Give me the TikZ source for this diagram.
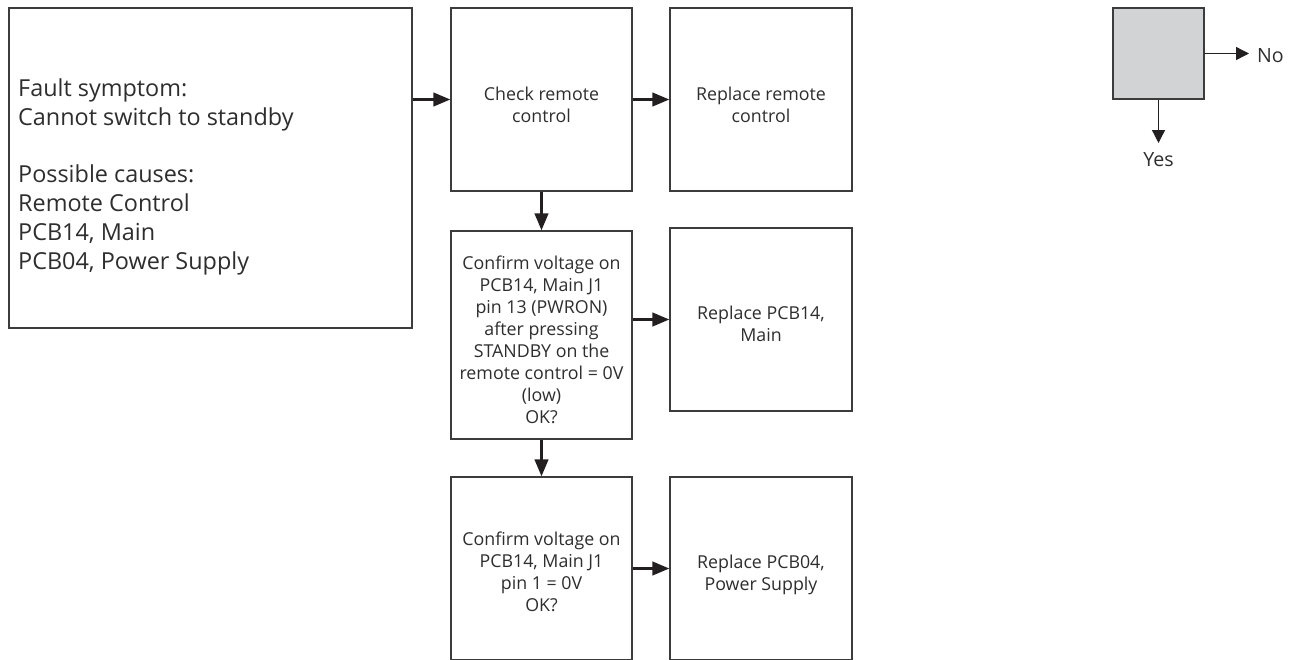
\documentclass[tikz,border=0pt]{standalone}
\usepackage{fontspec}
\setmainfont{Open Sans}
\usetikzlibrary{arrows.meta,calc}

\definecolor{ink}{HTML}{231F20}
\definecolor{frame}{HTML}{3C3C3C}
\definecolor{txt}{HTML}{2E2E2E}
\definecolor{decision}{HTML}{D2D3D5}

\tikzset{
  x=1pt, y=-1pt,
  stepbox/.style={draw=frame, line width=1.3pt, fill=white, inner sep=0pt},
  boxtext/.style={text=txt, align=center, inner sep=0pt,
    font=\fontsize{17.8}{22}\selectfont},
  flow/.style={draw=ink, line width=2.7pt,
    -{Triangle[length=17pt,width=13.5pt]}, shorten <=0.6pt},
  keyline/.style={draw=ink, line width=1.3pt,
    -{Triangle[length=13pt,width=13pt]}},
}

\begin{document}
\begin{tikzpicture}
\useasboundingbox (0,0) rectangle (1298,659);
\clip (0,0) rectangle (1298,659);

% boxes (y grows downwards)
\node[stepbox, minimum width=403pt, minimum height=320pt] (fault) at (210.5,168) {};
\node[stepbox, minimum width=181pt, minimum height=183pt] (check) at (541.5,99.5) {};
\node[stepbox, minimum width=182pt, minimum height=183pt] (rrc)   at (761,99.5) {};
\node[stepbox, minimum width=181pt, minimum height=208pt] (conf1) at (541.5,335) {};
\node[stepbox, minimum width=182pt, minimum height=183pt] (rmain) at (761,319.5) {};
\node[stepbox, minimum width=181pt, minimum height=183pt] (conf2) at (541.5,568.5) {};
\node[stepbox, minimum width=182pt, minimum height=183pt] (rpsu)  at (761,568.5) {};

% texts, placed by the baseline of their last line
\node[text=txt, align=left, inner sep=0pt, anchor=base west,
      font=\fontsize{23.4}{28.7}\selectfont] (faultTxt) at (18,269)
  {Fault symptom:\\Cannot switch to standby\\[28.7pt]Possible causes:\\Remote Control\\PCB14, Main\\PCB04, Power Supply};
\node[boxtext, anchor=base] (checkTxt) at (541.5,122) {Check remote\\control};
\node[boxtext, anchor=base] (rrcTxt)   at (761,122)   {Replace remote\\control};
\node[boxtext, anchor=base] (conf1Txt) at (541.5,423)
  {Confirm voltage on\\PCB14, Main J1\\pin 13 (PWRON)\\after pressing\\STANDBY on the\\remote control = 0V\\(low)\\OK?};
\node[boxtext, anchor=base] (rmainTxt) at (761,341)   {Replace PCB14,\\Main};
\node[boxtext, anchor=base] (conf2Txt) at (541.5,611)
  {Confirm voltage on\\PCB14, Main J1\\pin 1 = 0V\\OK?};
\node[boxtext, anchor=base] (rpsuTxt)  at (761,590)   {Replace PCB04,\\Power Supply};

% connectors
\draw[flow] (fault.east |- check.west) -- (check.west);
\draw[flow] (check.east) -- (rrc.west);
\draw[flow] (check.south) -- (conf1.north);
\draw[flow] (conf1.east |- rmain.west) -- (rmain.west);
\draw[flow] (conf1.south) -- (conf2.north);
\draw[flow] (conf2.east |- rpsu.west) -- (rpsu.west);

% key
\node[draw=frame, line width=1.3pt, fill=decision, minimum width=91pt,
      minimum height=91pt, inner sep=0pt] (legend) at (1158.5,53.5) {};
\node[text=txt, anchor=base west, inner sep=0pt,
      font=\fontsize{19.6}{23}\selectfont] (noTxt) at (1257,62) {No};
\node[text=txt, anchor=base, inner sep=0pt,
      font=\fontsize{19.6}{23}\selectfont] (yesTxt) at (1158.5,166) {Yes};
\coordinate (noTip) at ($(noTxt.west |- legend.east)+(-8,0)$);
\coordinate (yesTip) at (legend.south |- 0,143);
\draw[keyline] (legend.east) -- (noTip);
\draw[keyline] (legend.south) -- (yesTip);
\end{tikzpicture}
\end{document}
